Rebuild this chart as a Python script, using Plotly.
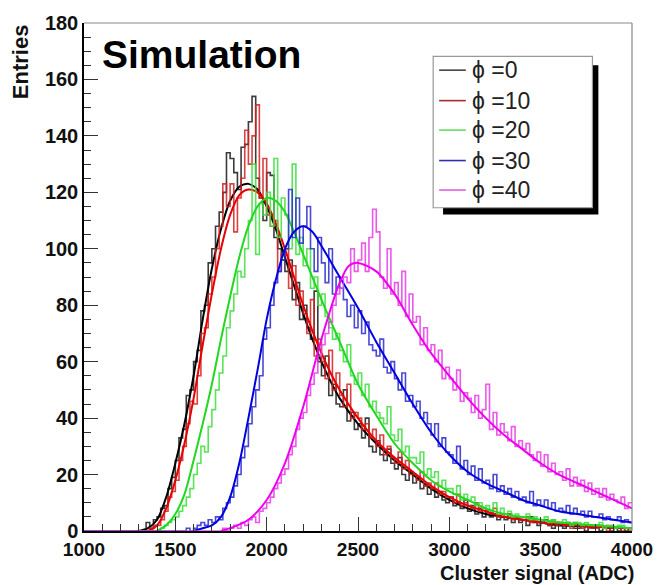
import numpy as np
import plotly.graph_objects as go

# ---------------- data ----------------
BIN_WIDTH = 20
X_MIN, X_MAX = 1000, 4000
Y_MAX = 180

LABELS = ["\u03d5 =0", "\u03d5 =10", "\u03d5 =20", "\u03d5 =30", "\u03d5 =40"]

BLACK_START = 1300
BLACK_COUNTS = [
    0, 0, 3, 1, 4, 5, 8, 9, 15, 19, 25, 33, 36, 48, 50, 60, 64, 78, 80, 95,
    100, 108, 113, 120, 134, 132, 127, 121, 136, 137, 145, 154, 125, 118, 110,
    127, 126, 104, 100, 96, 92, 96, 82, 88, 75, 80, 72, 68, 85, 60,
    55, 62, 48, 52, 45, 44, 50, 39, 42, 36, 38, 33, 40, 30, 28,
    32, 27, 25, 29, 24, 22, 26, 20, 18, 21, 17, 19, 15, 16, 13,
    15, 12, 14, 11, 10, 12, 9, 10, 8, 11, 7, 9, 6, 8, 5,
    7, 5, 6, 4, 5, 4, 6, 3, 5, 3, 4, 2, 5, 3, 2,
    3, 4, 2, 1, 3, 2, 1, 3, 2, 1, 1, 2, 0, 2, 1,
    2, 0, 1, 1, 0, 1, 0, 1, 0, 1]

RED_START = 1300
RED_COUNTS = [
    0, 0, 0, 1, 2, 2, 4, 7, 12, 14, 18, 25, 30, 38, 46, 45, 55, 70, 72, 84,
    90, 100, 108, 123, 115, 123, 106, 118, 125, 142, 130, 140, 151, 118, 132,
    112, 108, 110, 92, 98, 100, 86, 94, 80, 85, 77, 70, 82, 62, 68,
    60, 54, 64, 50, 56, 48, 44, 52, 40, 42, 40, 36, 38, 33, 36,
    30, 34, 27, 30, 26, 24, 28, 22, 25, 20, 20, 18, 21, 16, 17,
    15, 17, 13, 14, 12, 12, 10, 13, 9, 10, 9, 8, 10, 7, 8,
    7, 6, 8, 5, 6, 5, 6, 4, 5, 4, 4, 5, 3, 4, 3,
    3, 3, 2, 4, 2, 3, 2, 2, 1, 3, 2, 1, 2, 1, 1,
    1, 2, 1, 0, 1, 1, 1, 0, 1, 0]

GREEN_START = 1400
GREEN_COUNTS = [
    0, 1, 2, 3, 4, 5, 7, 9, 12, 15, 20, 24, 30, 28, 37,
    43, 50, 56, 62, 72, 78, 84, 92, 90, 100, 110, 130, 98, 116, 112,
    120, 108, 132, 104, 118, 112, 100, 130, 98, 104, 94, 100, 86, 90, 80,
    84, 76, 72, 68, 70, 64, 60, 66, 55, 52, 56, 48, 52, 44, 46,
    42, 40, 38, 44, 34, 32, 36, 28, 30, 26, 26, 24, 28, 20, 22,
    19, 21, 16, 18, 15, 15, 13, 16, 11, 13, 11, 12, 9, 10, 8,
    9, 7, 10, 6, 8, 6, 7, 5, 6, 5, 5, 6, 4, 5, 4,
    4, 5, 3, 4, 3, 3, 4, 3, 2, 3, 3, 2, 3, 2, 2,
    2, 3, 1, 2, 2, 1, 2, 2, 1, 1]

BLUE_START = 1500
BLUE_COUNTS = [
    0, 0, 0, 1, 0, 1, 2, 3, 2, 4, 3, 5, 4, 8, 10,
    12, 16, 20, 26, 30, 38, 44, 50, 55, 68, 72, 80, 88, 92, 96,
    100, 121, 104, 118, 102, 108, 115, 100, 92, 104, 95, 88, 100, 84, 90,
    86, 82, 76, 80, 72, 78, 70, 74, 66, 64, 62, 68, 58, 56, 60,
    54, 50, 56, 46, 48, 44, 46, 40, 42, 38, 34, 38, 30, 33, 28,
    27, 24, 30, 22, 25, 20, 23, 18, 22, 17, 18, 15, 20, 14, 16,
    13, 15, 12, 14, 11, 12, 10, 14, 9, 11, 9, 11, 8, 10, 7,
    8, 7, 9, 6, 8, 6, 7, 5, 7, 5, 5, 6, 4, 5, 4,
    4, 5, 3, 4, 3]

MAGENTA_START = 1740
MAGENTA_COUNTS = [
    0, 1, 0, 1, 2, 1, 3, 2, 4, 5, 3, 7, 8,
    10, 12, 15, 17, 20, 22, 27, 30, 36, 40, 42, 48, 52, 56, 62,
    66, 70, 74, 80, 84, 86, 90, 88, 100, 92, 96, 102, 92, 104, 114,
    106, 90, 86, 100, 84, 88, 80, 92, 76, 84, 74, 76, 66, 72, 64,
    66, 60, 64, 54, 58, 54, 50, 57, 46, 49, 47, 42, 48, 40, 43,
    52, 36, 42, 34, 38, 35, 32, 37, 30, 32, 29, 31, 27, 25, 28,
    23, 27, 21, 24, 20, 21, 18, 22, 16, 19, 16, 18, 14, 17, 13,
    15, 12, 15, 11, 13, 11, 10, 12, 8, 10]

# fitted curves
BLACK_FIT_X = [1300, 1350, 1400, 1450, 1500, 1550, 1600, 1650, 1700, 1750, 1800, 1850,
               1900, 1950, 2000, 2050, 2100, 2150, 2200, 2250, 2300, 2350, 2400, 2500,
               2600, 2700, 2800, 2900, 3000, 3100, 3200, 3300, 3400, 3500, 3600, 3800, 4000]
BLACK_FIT_Y = [0, 1, 4, 12, 24, 38, 55, 75, 93, 107, 117, 122, 123, 121, 115, 107, 97, 87,
               77, 68, 60, 53, 47, 38, 31, 25, 20, 15, 11, 8, 6, 5, 4, 3, 2, 1.5, 1]
RED_FIT_X = BLACK_FIT_X
RED_FIT_Y = [0, 0, 2, 8, 18, 31, 47, 66, 84, 100, 112, 119, 121, 120, 116, 109, 100, 90,
             80, 71, 63, 56, 50, 40, 32, 26, 21, 16, 12, 9, 7, 5, 4, 3, 2.5, 1.5, 1]
GREEN_FIT_X = [1400, 1450, 1500, 1550, 1600, 1650, 1700, 1750, 1800, 1850, 1900, 1950,
               2000, 2050, 2100, 2150, 2200, 2300, 2400, 2500, 2600, 2700, 2800, 2900,
               3000, 3100, 3200, 3300, 3400, 3500, 3600, 3800, 4000]
GREEN_FIT_Y = [0, 2, 6, 13, 25, 38, 52, 68, 83, 97, 108, 115, 118, 117, 113, 106, 98, 82,
               67, 52, 41, 31, 24, 18, 14, 11, 8, 6, 5, 4, 3, 2, 1]
BLUE_FIT_X = [1600, 1650, 1700, 1750, 1800, 1850, 1900, 1950, 2000, 2050, 2100, 2150,
              2200, 2250, 2300, 2400, 2500, 2600, 2700, 2800, 2900, 3000, 3100, 3200,
              3300, 3400, 3500, 3600, 3700, 3800, 3900, 4000]
BLUE_FIT_Y = [0, 1, 2, 5, 12, 24, 40, 57, 75, 89, 100, 106, 108, 106, 101, 90, 79, 67,
              56, 45, 35, 27, 21, 17, 14, 11, 9, 7, 6, 5, 4, 3]
MAGENTA_FIT_X = [1750, 1800, 1900, 2000, 2100, 2200, 2300, 2400, 2450, 2500, 2600, 2700,
                 2800, 2900, 3000, 3100, 3200, 3300, 3400, 3500, 3600, 3700, 3800, 3900, 4000]
MAGENTA_FIT_Y = [0, 1, 4, 11, 24, 44, 68, 88, 94, 95, 92, 84, 73, 63, 55, 47, 40, 34,
                 29, 24, 20, 17, 14, 11, 8]

HIST_COLORS = ["#1a1a1a", "#d62020", "#3ee03e", "#2a2ad0", "#e83ce8"]
FIT_COLORS = ["#000000", "#e60000", "#1fd81f", "#0000e0", "#ee00ee"]
LEGEND_COLORS = ["#444444", "#a03030", "#5ee05e", "#3030b0", "#e060e0"]

# ---------------- figure ----------------
W, H = 665, 585
L, R, T, B = 84, 27, 14, 54
PW, PH = W - L - R, H - T - B


def px(x):
    return (x - L) / PW


def py(y):
    return (H - B - y) / PH


FONT = "Liberation Sans, Arial, Helvetica, sans-serif"

nbins = int((X_MAX - X_MIN) / BIN_WIDTH)
edges = X_MIN + BIN_WIDTH * np.arange(nbins + 1)

series = [
    (BLACK_START, BLACK_COUNTS, BLACK_FIT_X, BLACK_FIT_Y),
    (RED_START, RED_COUNTS, RED_FIT_X, RED_FIT_Y),
    (GREEN_START, GREEN_COUNTS, GREEN_FIT_X, GREEN_FIT_Y),
    (BLUE_START, BLUE_COUNTS, BLUE_FIT_X, BLUE_FIT_Y),
    (MAGENTA_START, MAGENTA_COUNTS, MAGENTA_FIT_X, MAGENTA_FIT_Y),
]

fig = go.Figure()
for i, (start, counts, fx, fy) in enumerate(series):
    full = np.zeros(nbins)
    i0 = int(round((start - X_MIN) / BIN_WIDTH))
    c = np.asarray(counts, dtype=float)[: nbins - i0]
    full[i0:i0 + len(c)] = c
    ys = np.append(full, full[-1])
    fig.add_trace(go.Scatter(x=edges, y=ys, mode="lines", line_shape="hv",
                             line=dict(color=HIST_COLORS[i], width=1.6),
                             opacity=0.85, showlegend=False, hoverinfo="skip"))
    fig.add_trace(go.Scatter(x=fx, y=fy, mode="lines", line_shape="spline",
                             line=dict(color=FIT_COLORS[i], width=2.0, smoothing=0.8),
                             showlegend=False, hoverinfo="skip"))

xtickfont = dict(family=FONT, size=19, color="#111111", weight="bold")
ytickfont = dict(family=FONT, size=20, color="#111111", weight="bold")
fig.update_xaxes(range=[X_MIN, X_MAX], showgrid=False, zeroline=False,
                 showline=True, linecolor="#000000", linewidth=1.5,
                 ticks="inside", ticklen=14, tickwidth=1.2, tickcolor="#333333",
                 tickvals=[1000, 1500, 2000, 2500, 3000, 3500, 4000],
                 tickfont=xtickfont, ticklabelstandoff=0,
                 minor=dict(dtick=100, ticks="inside", ticklen=7, tickwidth=1,
                            tickcolor="#333333", showgrid=False))
fig.update_yaxes(range=[0, Y_MAX], showgrid=False, zeroline=False,
                 showline=True, linecolor="#000000", linewidth=1.5,
                 ticks="inside", ticklen=14, tickwidth=1.2, tickcolor="#333333",
                 tickvals=list(range(0, 181, 20)), tickfont=ytickfont,
                 minor=dict(dtick=5, ticks="inside", ticklen=7, tickwidth=1,
                            tickcolor="#333333", showgrid=False))

shapes = [
    # frame (top / right in grey)
    dict(type="line", xref="paper", yref="paper", x0=0, x1=1, y0=1, y1=1,
         line=dict(color="#888888", width=1.2)),
    dict(type="line", xref="paper", yref="paper", x0=1, x1=1, y0=0, y1=1,
         line=dict(color="#888888", width=1.2)),
    # legend shadow and box
    dict(type="rect", xref="paper", yref="paper", x0=px(447), x1=px(604),
         y0=py(209), y1=py(57), fillcolor="#000000", line=dict(width=0)),
    dict(type="rect", xref="paper", yref="paper", x0=px(437), x1=px(598),
         y0=py(202), y1=py(48), fillcolor="#ffffff",
         line=dict(color="#999999", width=1.2)),
]
annotations = [
    dict(text="Simulation", xref="paper", yref="paper", x=px(100), y=py(46),
         xanchor="left", yanchor="middle", showarrow=False,
         font=dict(family=FONT, size=39, color="#000000", weight="bold")),
    dict(text="Entries", xref="paper", yref="paper", x=px(20), y=py(13),
         xanchor="center", yanchor="top", textangle=-90, showarrow=False,
         font=dict(family=FONT, size=22, color="#111111", weight="bold")),
    dict(text="Cluster signal (ADC)", xref="paper", yref="paper", x=px(641), y=py(586),
         xanchor="right", yanchor="bottom", showarrow=False, borderpad=0,
         font=dict(family=FONT, size=20, color="#111111", weight="bold")),
]
row_y = [62, 93, 123, 154, 184]
for i, lab in enumerate(LABELS):
    shapes.append(dict(type="line", xref="paper", yref="paper",
                       x0=px(443), x1=px(470), y0=py(row_y[i]), y1=py(row_y[i]),
                       line=dict(color=LEGEND_COLORS[i], width=1.6)))
    annotations.append(dict(text=lab, xref="paper", yref="paper", x=px(474), y=py(row_y[i]),
                            xanchor="left", yanchor="middle", showarrow=False,
                            font=dict(family=FONT, size=23, color="#222222")))

fig.update_layout(width=W, height=H, margin=dict(l=L, r=R, t=T, b=B),
                  paper_bgcolor="#ffffff", plot_bgcolor="#ffffff",
                  shapes=shapes, annotations=annotations, showlegend=False)

fig.write_html("out.html")
